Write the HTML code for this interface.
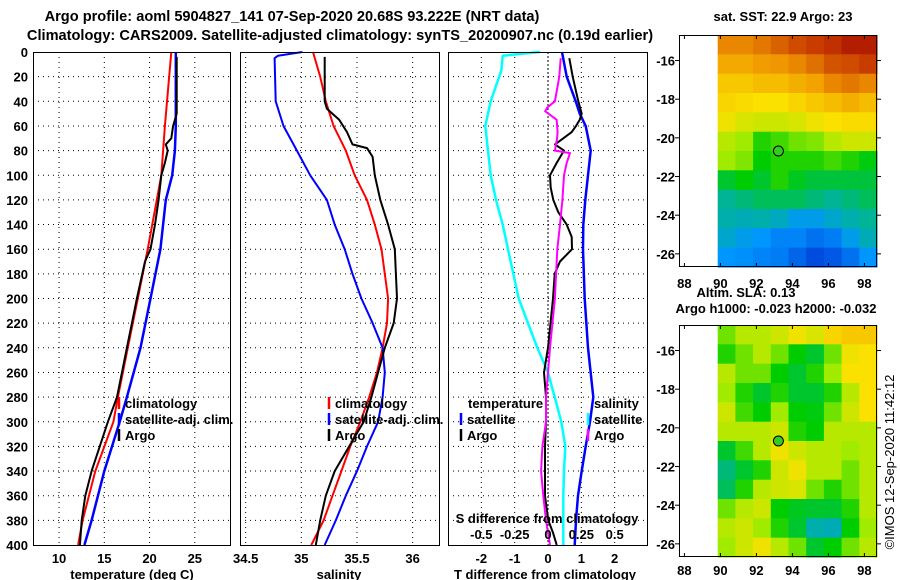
<!DOCTYPE html>
<html><head><meta charset="utf-8">
<style>
html,body{margin:0;padding:0;background:#fff;}
svg{display:block;font-family:"Liberation Sans",Arial,sans-serif;font-weight:bold;}
</style></head>
<body>
<svg id="fig" width="900" height="580" viewBox="0 0 900 580">
<text x="292" y="21" font-size="14.6" text-anchor="middle">Argo profile: aoml 5904827_141 07-Sep-2020 20.68S 93.222E (NRT data)</text>
<text x="340" y="40" font-size="14.6" text-anchor="middle">Climatology: CARS2009. Satellite-adjusted climatology: synTS_20200907.nc (0.19d earlier)</text>
<g id="g"></g>
</svg>
<script>
// ---- Panel 1: temperature ----
const tClimD=[0,60,100,120,160,200,240,280,300,340,380,400];
const tClimV=[22.4,21.7,21.3,20.8,19.8,18.7,17.6,16.5,16.0,14.0,12.6,12.1];
const tArgoD=[4,50,60,70,75,80,90,100,120,140,160,170,200,240,280,300,340,360,380,400];
const tArgoV=[23.0,23.0,22.6,22.4,21.8,22.0,21.7,21.3,21.0,20.6,20.1,19.5,18.6,17.5,16.4,15.4,13.6,12.9,12.5,12.3];
const tSatD=[0,60,80,100,120,160,200,240,280,300,340,380,400];
const tSatV=[22.9,22.9,22.8,22.5,21.8,21.2,20.1,19.0,17.5,16.7,15.0,13.6,12.8];
// ---- Panel 2: salinity ----
const sClimD=[0,20,40,60,80,100,120,140,160,180,200,220,240,260,280,300,320,340,360,380,400];
const sClimV=[35.105,35.17,35.22,35.29,35.40,35.48,35.59,35.66,35.72,35.75,35.78,35.77,35.73,35.68,35.61,35.53,35.44,35.36,35.28,35.20,35.09];
const sArgoD=[4,40,46,55,65,75,78,85,100,120,140,160,180,200,220,240,260,280,300,320,340,360,380,400];
const sArgoV=[35.21,35.21,35.23,35.34,35.41,35.46,35.59,35.64,35.66,35.71,35.78,35.84,35.85,35.86,35.83,35.75,35.69,35.63,35.56,35.43,35.30,35.22,35.17,35.13];
const sSatD=[0,3,5,40,60,80,100,120,140,160,180,200,220,240,260,280,300,320,340,360,380,400];
const sSatV=[35.01,34.79,34.76,34.77,34.84,34.96,35.08,35.23,35.30,35.39,35.46,35.54,35.64,35.73,35.75,35.73,35.69,35.59,35.50,35.40,35.31,35.21];
// ---- Panel 3: differences ----
const dTSatD=[0,20,40,50,60,80,100,120,140,160,200,240,280,300,320,340,360,380,400];
const dTSatV=[0.42,0.56,0.83,0.95,1.13,1.28,1.2,1.12,1.06,1.05,1.1,1.2,1.36,1.26,1.13,1.01,0.90,0.84,0.80];
const dTArgoD=[5,20,40,50,55,60,65,70,75,80,90,100,110,120,130,140,150,160,170,180,200,240,260,280,300,320,340,360,380,390,400];
const dTArgoV=[0.64,0.74,0.91,1.01,0.95,0.84,0.71,0.46,0.21,0.48,0.26,0.06,0.08,0.16,0.31,0.56,0.71,0.72,0.36,0.2,0.15,0.0,-0.12,-0.06,-0.06,-0.09,-0.09,-0.09,0.01,0.15,0.26];
const dSSatD=[0,3,15,40,60,80,100,120,140,160,200,240,260,280,300,320,340,360,400];
const dSSatV=[-0.06,-0.34,-0.35,-0.43,-0.47,-0.45,-0.43,-0.39,-0.34,-0.30,-0.22,-0.08,0.0,0.05,0.10,0.13,0.12,0.115,0.115];
const dSArgoD=[5,20,40,45,48,55,65,70,80,82,90,100,120,140,160,200,240,260,280,300,320,340,360,380,400];
const dSArgoV=[0.095,0.085,0.052,-0.005,-0.022,0.065,0.072,0.068,0.052,0.165,0.14,0.12,0.108,0.09,0.07,0.052,0.015,0.0,-0.015,-0.015,-0.042,-0.052,-0.035,-0.015,0.015];
// ---- Maps ----
const mapLons=[88,90,92,94,96,98];
const mapLats=[-16,-18,-20,-22,-24,-26];
const sstGrid=[
[0.8,0.8,0.82,0.85,0.88,0.9,0.92,0.95,0.95],
[0.75,0.75,0.77,0.78,0.8,0.83,0.87,0.88,0.9],
[0.7,0.7,0.72,0.72,0.74,0.76,0.8,0.82,0.8],
[0.68,0.67,0.66,0.66,0.68,0.7,0.72,0.74,0.72],
[0.65,0.63,0.62,0.62,0.63,0.65,0.66,0.67,0.67],
[0.6,0.58,0.5,0.52,0.55,0.56,0.6,0.62,0.62],
[0.58,0.56,0.48,0.5,0.5,0.5,0.52,0.5,0.47],
[0.45,0.48,0.45,0.5,0.46,0.44,0.44,0.44,0.44],
[0.38,0.4,0.42,0.42,0.42,0.4,0.38,0.4,0.42],
[0.36,0.35,0.36,0.34,0.3,0.3,0.33,0.36,0.38],
[0.33,0.3,0.28,0.25,0.25,0.22,0.24,0.3,0.35],
[0.28,0.27,0.25,0.24,0.2,0.16,0.18,0.22,0.28]];
const slaGrid=[
[0.55,0.6,0.6,0.62,0.65,0.63,0.68,0.7,0.7],
[0.5,0.55,0.6,0.55,0.48,0.45,0.55,0.65,0.66],
[0.6,0.55,0.55,0.48,0.45,0.5,0.58,0.66,0.66],
[0.58,0.5,0.45,0.5,0.45,0.45,0.5,0.6,0.66],
[0.62,0.52,0.48,0.58,0.48,0.47,0.55,0.62,0.66],
[0.6,0.6,0.6,0.62,0.5,0.48,0.6,0.6,0.6],
[0.45,0.52,0.6,0.65,0.62,0.6,0.6,0.58,0.6],
[0.4,0.45,0.5,0.62,0.65,0.6,0.6,0.55,0.6],
[0.42,0.5,0.6,0.62,0.63,0.55,0.5,0.55,0.6],
[0.55,0.6,0.62,0.48,0.46,0.45,0.45,0.5,0.6],
[0.6,0.62,0.58,0.5,0.45,0.36,0.35,0.48,0.58],
[0.58,0.62,0.65,0.6,0.55,0.45,0.48,0.55,0.6]];
const argoLon=93.222, argoLat=-20.68;
const depthTicks=[0,20,40,60,80,100,120,140,160,180,200,220,240,260,280,300,320,340,360,380,400];

const NS='http://www.w3.org/2000/svg';
const G=document.getElementById('g');
function mk(tag,attrs,parent){const e=document.createElementNS(NS,tag);for(const k in attrs)e.setAttribute(k,attrs[k]);(parent||G).appendChild(e);return e;}
function txt(x,y,s,size,anchor,parent){const t=mk('text',{x:x,y:y,'font-size':size,'text-anchor':anchor||'middle'},parent);t.textContent=s;return t;}

const Y0=52,Y1=545;
function yD(d){return Y0+d*(Y1-Y0)/400;}
function makeX(x0,x1,v0,v1){return v=>x0+(v-v0)*(x1-x0)/(v1-v0);}
const P1={x0:33,x1:231}, P2={x0:240,x1:440}, P3={x0:448,x1:648};
const x1f=makeX(33,231,7.12,29.0);
const x2f=makeX(240,440,34.449,36.246);
const x3f=makeX(448,648,-3,3);
const x3s=v=>x3f(v*4);

function panel(P,xticks,xf,name){
  const g=mk('g',{});
  
  
  depthTicks.forEach(d=>{if(d>0&&d<400){const l=mk('line',{x1:P.x0,x2:P.x1,y1:yD(d),y2:yD(d),stroke:'#000','stroke-width':1,'stroke-dasharray':'1,4'},g);
    
    }});
  xticks.forEach(v=>{const l=mk('line',{x1:xf(v),x2:xf(v),y1:Y0,y2:Y1,stroke:'#000','stroke-width':1,'stroke-dasharray':'1,4'},g);
    
    });
  return g;
}
function frame(P,g){const r=mk('rect',{x:P.x0+0.5,y:Y0+0.5,width:P.x1-P.x0-1,height:Y1-Y0,fill:'none',stroke:'#000','stroke-width':1},g);
  
  }
function series(ds,vs,xf,color,w,g,name){
  const pts=ds.map((d,i)=>xf(vs[i]).toFixed(1)+','+yD(d).toFixed(1)).join(' ');
  const p=mk('polyline',{points:pts,fill:'none',stroke:color,'stroke-width':w,'stroke-linejoin':'round'},g);
  
  
}

// Panel 1
const g1=panel(P1,[10,15,20,25],x1f,'temperature-panel');
series(tClimD,tClimV,x1f,'#f00',2,g1,'temp-climatology-line');
series(tSatD,tSatV,x1f,'#00f',2.5,g1,'temp-satellite-line');
series(tArgoD,tArgoV,x1f,'#000',2,g1,'temp-argo-line');
frame(P1,g1);
depthTicks.forEach(d=>{const t=txt(28,yD(d)+5,String(d),13,'end',g1);
  
  });
[10,15,20,25].forEach(v=>{const t=txt(x1f(v),563,String(v),13,'middle',g1);
  
  });
(function(){const t=txt(132,579,'temperature (deg C)',13,'middle',g1);})();

// Panel 2
const g2=panel(P2,[34.5,35,35.5,36],x2f,'salinity-panel');
series(sClimD,sClimV,x2f,'#f00',2,g2,'sal-climatology-line');
series(sSatD,sSatV,x2f,'#00f',2,g2,'sal-satellite-line');
series(sArgoD,sArgoV,x2f,'#000',2,g2,'sal-argo-line');
frame(P2,g2);
[34.5,35,35.5,36].forEach(v=>{const t=txt(x2f(v),563,String(v),13,'middle',g2);
  
  });
(function(){const t=txt(339,579,'salinity',13,'middle',g2);})();

// Panel 3
const g3=panel(P3,[-2,-1,1,2],x3f,'difference-panel');
(function(){const l=mk('line',{x1:x3f(0),x2:x3f(0),y1:Y0,y2:Y1,stroke:'#000','stroke-width':1,'stroke-dasharray':'2,2'},g3);})();
series(dSSatD,dSSatV,x3s,'#0ff',2.5,g3,'sal-diff-satellite-line');
series(dTSatD,dTSatV,x3f,'#00f',2.5,g3,'temp-diff-satellite-line');
series(dTArgoD,dTArgoV,x3f,'#000',2,g3,'temp-diff-argo-line');
series(dSArgoD,dSArgoV,x3s,'#f0f',2,g3,'sal-diff-argo-line');
frame(P3,g3);
[-2,-1,0,1,2].forEach(v=>{const t=txt(x3f(v),563,String(v),13,'middle',g3);
  
  });
[-0.5,-0.25,0,0.25,0.5].forEach(v=>{const t=txt(x3s(v),539,String(v),13,'middle',g3);
  
  });
(function(){const t=txt(547,523,'S difference from climatology',13,'middle',g3);
 const t2=txt(545,579,'T difference from climatology',13,'middle',g3);})();

// Legends
function legend(x,y,color,label,name){
  const g=mk('g',{});
  
  
  if(color){mk('line',{x1:x,x2:x,y1:y-11,y2:y+1,stroke:color,'stroke-width':2.5},g);}
  txt(x+6,y,label,13,'start',g);
}
legend(119,408,'#f00','climatology','legend-temp-climatology');
legend(119,424,'#00f','satellite-adj. clim.','legend-temp-satellite');
legend(119,440,'#000','Argo','legend-temp-argo');
legend(329,408,'#f00','climatology','legend-sal-climatology');
legend(329,424,'#00f','satellite-adj. clim.','legend-sal-satellite');
legend(329,440,'#000','Argo','legend-sal-argo');
legend(462,408,null,'temperature','legend-temperature-heading');
legend(461,424,'#00f','satellite','legend-tdiff-satellite');
legend(461,440,'#000','Argo','legend-tdiff-argo');
legend(588,408,null,'salinity','legend-salinity-heading');
legend(588,424,'#0ff','satellite','legend-sdiff-satellite');
legend(588,440,'#f0f','Argo','legend-sdiff-argo');

// Maps
const stops=[[0,[0,0,140]],[0.15,[0,70,220]],[0.28,[0,150,255]],[0.38,[0,180,150]],[0.48,[0,205,0]],[0.58,[160,235,0]],[0.66,[250,225,0]],[0.78,[240,150,0]],[0.9,[200,60,0]],[1,[160,0,0]]];
function cmap(v){for(let i=1;i<stops.length;i++){if(v<=stops[i][0]){const a=stops[i-1],b=stops[i];const t=(v-a[0])/(b[0]-a[0]);const c=a[1].map((q,k)=>Math.round(q+(b[1][k]-q)*t));return 'rgb('+c+')';}}return 'rgb(160,0,0)';}
function drawMap(top,bot,grid,name,xlabY){
  const g=mk('g',{});
  
  
  const L=679,R=877;
  const xm=makeX(L,R,87.7,98.7), ym=makeX(top,bot,-14.68,-26.68);
  const nC=grid[0].length,lon0=89.85,dl=(98.7-89.85)/nC;
  grid.forEach((row,i)=>row.forEach((v,j)=>{
    const x=xm(lon0+j*dl),y=ym(-14.68-i);
    const r=mk('rect',{x:x.toFixed(1),y:y.toFixed(1),width:(xm(lon0+(j+1)*dl)-x+0.6).toFixed(1),height:(ym(-15.68-i)-y+0.6).toFixed(1),fill:cmap(v)},g);
    
    
  }));
  mk('rect',{x:L+0.5,y:top+0.5,width:R-L-1,height:bot-top-1,fill:'none',stroke:'#000','stroke-width':1},g);
  mapLons.forEach(v=>{const x=xm(v);mk('line',{x1:x,x2:x,y1:top,y2:top+4,stroke:'#000'},g);mk('line',{x1:x,x2:x,y1:bot-4,y2:bot,stroke:'#000'},g);
    const t=txt(x,xlabY,String(v),13,'middle',g);
    
    });
  mapLats.forEach(v=>{const y=ym(v);mk('line',{x1:L,x2:L-4,y1:y,y2:y,stroke:'#000'},g);mk('line',{x1:R,x2:R+4,y1:y,y2:y,stroke:'#000'},g);
    const t=txt(675,y+5,String(v),13,'end',g);
    
    });
  const c=mk('circle',{cx:xm(argoLon),cy:ym(argoLat),r:5,fill:'#33cc22',stroke:'#000','stroke-width':1},g);
  
  
}
drawMap(35,267,sstGrid,'sst-map',288);
drawMap(325,557,slaGrid,'sla-map',575);
(function(){
 const a=txt(783,21,'sat. SST: 22.9 Argo: 23',13,'middle');
 const b=txt(746,297,'Altim. SLA: 0.13',13,'middle');
 const c=txt(776,313,'Argo h1000: -0.023 h2000: -0.032',13,'middle');
 const d=mk('text',{x:0,y:0,'font-size':13,'font-weight':'normal','text-anchor':'middle',transform:'translate(894,462) rotate(-90)'});
 d.textContent='©IMOS 12-Sep-2020 11:42:12';
 
 
})();
</script>
</body></html>
